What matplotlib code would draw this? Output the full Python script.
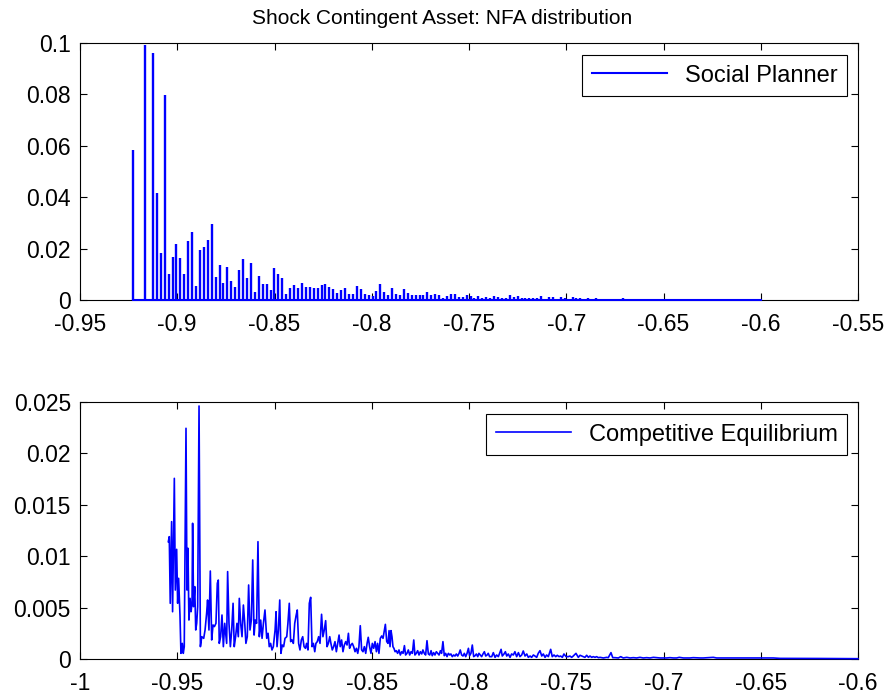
import numpy as np
import matplotlib
matplotlib.use("Agg")
import matplotlib.pyplot as plt
from matplotlib.ticker import FixedLocator, FuncFormatter

plt.rcParams['font.family'] = ['Liberation Sans', 'DejaVu Sans']
plt.rcParams['axes.unicode_minus'] = False

# --- Social planner: spike heights on a regular asset grid ---
sp_x_start, sp_x_end = -0.9226, -0.6
sp_h = [
    0.0582, 0, 0, 0.0992, 0, 0.0963, 0.0418, 0.0184, 0.0796, 0.0103,
    0.0169, 0.0219, 0.0165, 0.0100, 0.0230, 0.0263, 0.0056, 0.0196, 0.0207, 0.0234,
    0.0294, 0.0089, 0.0135, 0.0068, 0.0129, 0.0072, 0.0051, 0.0115, 0.0160, 0.0084,
    0.0145, 0.0033, 0.0094, 0.0064, 0.0064, 0.0038, 0.0123, 0.0100, 0.0084, 0.0025,
    0.0047, 0.0060, 0.0047, 0.0068, 0.0051, 0.0050, 0.0045, 0.0045, 0.0060, 0.0063,
    0.0050, 0.0041, 0.0028, 0.0037, 0.0045, 0.0025, 0.0025, 0.0056, 0.0041, 0.0025,
    0.0018, 0.0015, 0.0034, 0.0064, 0.0030, 0.0018, 0.0045, 0.0025, 0.0018, 0.0041,
    0.0028, 0.0021, 0.0019, 0.0021, 0.0021, 0.0033, 0.0019, 0.0025, 0.0019, 0.0009,
    0.0016, 0.0025, 0.0025, 0.0012, 0.0011, 0.0021, 0.0015, 0.0007, 0.0017, 0.0007,
    0.0010, 0.0006, 0.0017, 0.0012, 0.0009, 0.0006, 0.0018, 0.0012, 0.0014, 0.0009,
    0.0008, 0.0008, 0.0009, 0.0008, 0.0014, 0.0004, 0.0010, 0.0010, 0.0005, 0.0010,
    0.0008, 0.0003, 0.0012, 0.0008, 0.0008, 0.0005, 0.0008, 0.0003, 0.0009, 0.0002,
    0.0004, 0.0003, 0.0004, 0.0004, 0.0002, 0.0009, 0.0002, 0.0003, 0.0001, 0.0001,
    0.0004, 0.0001, 0.0001, 0.0003, 0.0001, 0.0001, 0.0001, 0.0003, 0.0001, 0.0001,
    0.0001, 0.0003, 0.0001, 0.0003, 0.0001, 0.0001, 0.0001, 0.0001, 0.0001, 0.0001,
    0.0001, 0.0004, 0.0001, 0.0001, 0.0003, 0.0001, 0.0001, 0.0001, 0.0003, 0.0001,
    0.0001,
]

# --- Competitive equilibrium: density line ---
ce_x = [
    -0.9546, -0.9541, -0.9536, -0.9529, -0.9524, -0.9515, -0.9510, -0.9503, -0.9498, -0.9493,
    -0.9486, -0.9481, -0.9474, -0.9469, -0.9464, -0.9455, -0.9450, -0.9445, -0.9440, -0.9434,
    -0.9429, -0.9424, -0.9421, -0.9416, -0.9410, -0.9405, -0.9400, -0.9395, -0.9388, -0.9381,
    -0.9374, -0.9364, -0.9357, -0.9349, -0.9344, -0.9337, -0.9330, -0.9323, -0.9316, -0.9309,
    -0.9301, -0.9294, -0.9289, -0.9284, -0.9277, -0.9270, -0.9263, -0.9256, -0.9246, -0.9241,
    -0.9234, -0.9227, -0.9220, -0.9213, -0.9207, -0.9200, -0.9193, -0.9186, -0.9181, -0.9174,
    -0.9167, -0.9160, -0.9153, -0.9147, -0.9140, -0.9133, -0.9126, -0.9119, -0.9112, -0.9105,
    -0.9099, -0.9092, -0.9085, -0.9078, -0.9071, -0.9064, -0.9057, -0.9049, -0.9040, -0.9033,
    -0.9027, -0.9020, -0.9013, -0.9006, -0.8997, -0.8992, -0.8987, -0.8980, -0.8973, -0.8967,
    -0.8960, -0.8953, -0.8946, -0.8937, -0.8931, -0.8924, -0.8917, -0.8910, -0.8903, -0.8896,
    -0.8889, -0.8883, -0.8876, -0.8869, -0.8862, -0.8855, -0.8848, -0.8841, -0.8835, -0.8828,
    -0.8821, -0.8814, -0.8807, -0.8800, -0.8793, -0.8787, -0.8780, -0.8773, -0.8766, -0.8758,
    -0.8751, -0.8744, -0.8737, -0.8730, -0.8723, -0.8716, -0.8710, -0.8703, -0.8696, -0.8689,
    -0.8682, -0.8675, -0.8668, -0.8662, -0.8655, -0.8648, -0.8641, -0.8634, -0.8627, -0.8620,
    -0.8614, -0.8607, -0.8600, -0.8593, -0.8586, -0.8579, -0.8572, -0.8566, -0.8559, -0.8552,
    -0.8545, -0.8538, -0.8531, -0.8524, -0.8518, -0.8511, -0.8504, -0.8497, -0.8490, -0.8483,
    -0.8476, -0.8470, -0.8463, -0.8456, -0.8449, -0.8442, -0.8435, -0.8430, -0.8423, -0.8416,
    -0.8411, -0.8406, -0.8401, -0.8396, -0.8391, -0.8386, -0.8380, -0.8374, -0.8367, -0.8360,
    -0.8353, -0.8346, -0.8339, -0.8332, -0.8326, -0.8319, -0.8312, -0.8305, -0.8298, -0.8291,
    -0.8284, -0.8278, -0.8271, -0.8264, -0.8257, -0.8250, -0.8243, -0.8237, -0.8230, -0.8223,
    -0.8216, -0.8209, -0.8202, -0.8195, -0.8189, -0.8182, -0.8175, -0.8168, -0.8161, -0.8154,
    -0.8147, -0.8141, -0.8134, -0.8127, -0.8120, -0.8113, -0.8106, -0.8099, -0.8093, -0.8086,
    -0.8079, -0.8072, -0.8065, -0.8058, -0.8051, -0.8045, -0.8038, -0.8031, -0.8024, -0.8017,
    -0.8010, -0.8003, -0.7997, -0.7990, -0.7983, -0.7976, -0.7969, -0.7962, -0.7955, -0.7949,
    -0.7942, -0.7935, -0.7928, -0.7921, -0.7914, -0.7907, -0.7901, -0.7894, -0.7883, -0.7875,
    -0.7866, -0.7858, -0.7849, -0.7835, -0.7829, -0.7820, -0.7813, -0.7806, -0.7798, -0.7789,
    -0.7781, -0.7772, -0.7764, -0.7755, -0.7746, -0.7738, -0.7729, -0.7721, -0.7712, -0.7703,
    -0.7695, -0.7686, -0.7678, -0.7669, -0.7661, -0.7652, -0.7644, -0.7635, -0.7626, -0.7618,
    -0.7609, -0.7601, -0.7592, -0.7580, -0.7572, -0.7563, -0.7554, -0.7546, -0.7537, -0.7529,
    -0.7520, -0.7512, -0.7501, -0.7489, -0.7481, -0.7472, -0.7464, -0.7450, -0.7438, -0.7429,
    -0.7412, -0.7404, -0.7395, -0.7386, -0.7378, -0.7369, -0.7361, -0.7352, -0.7344, -0.7335,
    -0.7326, -0.7309, -0.7292, -0.7284, -0.7270, -0.7261, -0.7249, -0.7232, -0.7220, -0.7207,
    -0.7189, -0.7172, -0.7155, -0.7138, -0.7121, -0.7104, -0.7087, -0.7069, -0.7052, -0.7035,
    -0.7018, -0.7001, -0.6984, -0.6967, -0.6949, -0.6932, -0.6919, -0.6898, -0.6864, -0.6847,
    -0.6812, -0.6795, -0.6744, -0.6727, -0.6692, -0.6624, -0.6590, -0.6538, -0.6487, -0.6435,
    -0.6401, -0.6300, -0.6200, -0.6100, -0.6000,
]
ce_y = [
    0.01141, 0.01190, 0.00542, 0.01336, 0.00460, 0.01757, 0.00671, 0.01067, 0.00542, 0.00785,
    0.00428, 0.00055, 0.00152, 0.00055, 0.00120, 0.02244, 0.00671, 0.01077, 0.00379, 0.00590,
    0.00460, 0.00542, 0.01320, 0.00509, 0.00704, 0.00282, 0.00347, 0.00509, 0.02461, 0.00120,
    0.00217, 0.00201, 0.00282, 0.00444, 0.00574, 0.00282, 0.00856, 0.00185, 0.00331, 0.00315,
    0.00347, 0.00736, 0.00768, 0.00152, 0.00217, 0.00428, 0.00120, 0.00347, 0.00152, 0.00850,
    0.00347, 0.00120, 0.00282, 0.00542, 0.00120, 0.00217, 0.00347, 0.00217, 0.00590, 0.00347,
    0.00217, 0.00525, 0.00347, 0.00152, 0.00217, 0.00720, 0.00282, 0.00379, 0.00963, 0.00233,
    0.00379, 0.00347, 0.01141, 0.00217, 0.00379, 0.00201, 0.00347, 0.00477, 0.00201, 0.00250,
    0.00120, 0.00152, 0.00088, 0.00120, 0.00282, 0.00460, 0.00120, 0.00282, 0.00574, 0.00055,
    0.00136, 0.00120, 0.00201, 0.00217, 0.00347, 0.00542, 0.00169, 0.00185, 0.00152, 0.00347,
    0.00422, 0.00477, 0.00152, 0.00088, 0.00185, 0.00217, 0.00120, 0.00104, 0.00152, 0.00088,
    0.00542, 0.00600, 0.00120, 0.00152, 0.00071, 0.00152, 0.00169, 0.00217, 0.00152, 0.00435,
    0.00217, 0.00282, 0.00373, 0.00120, 0.00152, 0.00217, 0.00152, 0.00088, 0.00120, 0.00169,
    0.00071, 0.00152, 0.00233, 0.00120, 0.00185, 0.00071, 0.00136, 0.00169, 0.00136, 0.00250,
    0.00104, 0.00136, 0.00152, 0.00120, 0.00071, 0.00104, 0.00055, 0.00120, 0.00324, 0.00088,
    0.00071, 0.00120, 0.00055, 0.00152, 0.00211, 0.00120, 0.00055, 0.00152, 0.00104, 0.00169,
    0.00071, 0.00152, 0.00055, 0.00201, 0.00224, 0.00201, 0.00282, 0.00337, 0.00169, 0.00152,
    0.00276, 0.00120, 0.00276, 0.00217, 0.00120, 0.00104, 0.00071, 0.00081, 0.00055, 0.00088,
    0.00039, 0.00071, 0.00055, 0.00130, 0.00039, 0.00055, 0.00088, 0.00039, 0.00071, 0.00055,
    0.00185, 0.00039, 0.00055, 0.00081, 0.00039, 0.00071, 0.00049, 0.00088, 0.00055, 0.00039,
    0.00178, 0.00049, 0.00039, 0.00081, 0.00032, 0.00062, 0.00039, 0.00071, 0.00055, 0.00039,
    0.00081, 0.00055, 0.00169, 0.00032, 0.00055, 0.00023, 0.00055, 0.00039, 0.00049, 0.00023,
    0.00039, 0.00029, 0.00049, 0.00029, 0.00055, 0.00088, 0.00039, 0.00029, 0.00055, 0.00023,
    0.00055, 0.00104, 0.00032, 0.00055, 0.00136, 0.00023, 0.00032, 0.00049, 0.00023, 0.00055,
    0.00039, 0.00023, 0.00049, 0.00071, 0.00029, 0.00039, 0.00055, 0.00023, 0.00023, 0.00062,
    0.00016, 0.00039, 0.00023, 0.00094, 0.00029, 0.00049, 0.00071, 0.00029, 0.00049, 0.00016,
    0.00049, 0.00039, 0.00071, 0.00023, 0.00062, 0.00023, 0.00039, 0.00078, 0.00029, 0.00049,
    0.00016, 0.00029, 0.00016, 0.00039, 0.00029, 0.00016, 0.00055, 0.00081, 0.00029, 0.00049,
    0.00016, 0.00039, 0.00023, 0.00094, 0.00023, 0.00039, 0.00023, 0.00036, 0.00023, 0.00029,
    0.00016, 0.00049, 0.00023, 0.00023, 0.00029, 0.00016, 0.00029, 0.00055, 0.00016, 0.00036,
    0.00023, 0.00016, 0.00036, 0.00016, 0.00029, 0.00016, 0.00023, 0.00016, 0.00023, 0.00013,
    0.00016, 0.00010, 0.00016, 0.00013, 0.00062, 0.00013, 0.00013, 0.00010, 0.00023, 0.00010,
    0.00016, 0.00010, 0.00013, 0.00010, 0.00016, 0.00010, 0.00013, 0.00010, 0.00016, 0.00013,
    0.00010, 0.00010, 0.00010, 0.00013, 0.00010, 0.00010, 0.00016, 0.00010, 0.00010, 0.00013,
    0.00010, 0.00010, 0.00016, 0.00010, 0.00010, 0.00010, 0.00010, 0.00010, 0.00010, 0.00010,
    0.00006, 0.00006, 0.00005, 0.00004, 0.00003,
]

top_xticks = [-0.95, -0.9, -0.85, -0.8, -0.75, -0.7, -0.65, -0.6, -0.55]
top_yticks = [0, 0.02, 0.04, 0.06, 0.08, 0.1]
bot_xticks = [-1, -0.95, -0.9, -0.85, -0.8, -0.75, -0.7, -0.65, -0.6]
bot_yticks = [0, 0.005, 0.01, 0.015, 0.02, 0.025]

W, H = 885, 694
fig = plt.figure(figsize=(W / 100, H / 100), dpi=100)
left, width = 80 / W, 778 / W
ax1 = fig.add_axes([left, 1 - 300 / H, width, 257 / H])
ax2 = fig.add_axes([left, 1 - 659 / H, width, 257 / H])

blue = (0, 0, 1)
fmt = FuncFormatter(lambda v, p: '%g' % v)
fs = 16.5

# top panel
sp_x = np.linspace(sp_x_start, sp_x_end, len(sp_h))
ax1.vlines(sp_x, 0, sp_h, color=blue, lw=1.7, zorder=3)
ax1.plot(sp_x, np.zeros(len(sp_x)), color=blue, lw=1.5, zorder=3,
         clip_on=False, label='Social Planner')
ax1.set_xlim(-0.95, -0.55)
ax1.set_ylim(0, 0.1)
ax1.xaxis.set_major_locator(FixedLocator(top_xticks))
ax1.yaxis.set_major_locator(FixedLocator(top_yticks))
fig.text(0.5, 1 - 24 / H, 'Shock Contingent Asset: NFA distribution',
         fontsize=15, ha='center', va='baseline')

# bottom panel
ax2.plot(ce_x, ce_y, color=blue, lw=1.2, zorder=3, clip_on=False,
         label='Competitive Equilibrium')
ax2.set_xlim(-1, -0.6)
ax2.set_ylim(0, 0.025)
ax2.xaxis.set_major_locator(FixedLocator(bot_xticks))
ax2.yaxis.set_major_locator(FixedLocator(bot_yticks))

for ax in (ax1, ax2):
    ax.xaxis.set_major_formatter(fmt)
    ax.yaxis.set_major_formatter(fmt)
    ax.tick_params(direction='in', length=5, width=0.8, top=True, right=True,
                   labelsize=fs)
    ax.tick_params(axis='x', pad=9.5)
    ax.tick_params(axis='y', pad=6.5)
    for s in ax.spines.values():
        s.set_linewidth(0.8)
    leg = ax.legend(loc='upper right', bbox_to_anchor=(0.986, 0.953),
                    fontsize=17, handlelength=3.2, fancybox=False,
                    edgecolor='black', framealpha=1, borderpad=0.4,
                    borderaxespad=0, handletextpad=0.75)
    leg.get_frame().set_linewidth(0.8)

fig.savefig('out.png', dpi=100)
